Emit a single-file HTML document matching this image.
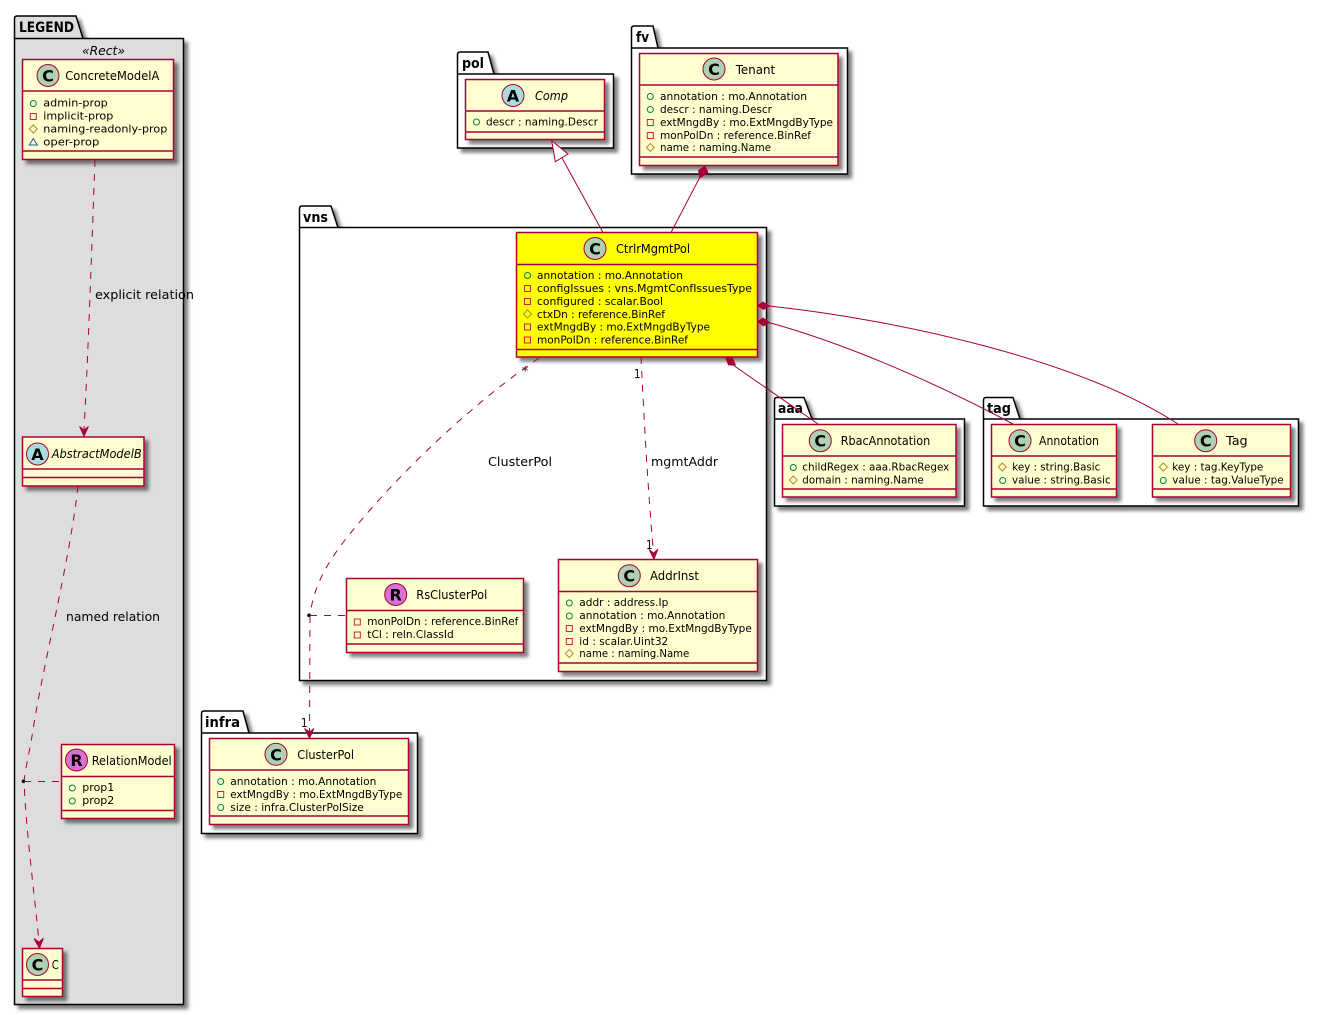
<!DOCTYPE html>
<html><head><meta charset="utf-8"><style>
html,body{margin:0;padding:0;background:#fff}
svg{display:block}
text{font-family:"DejaVu Sans","Liberation Sans",sans-serif;fill:#000}
.a{font-size:11px}
.n{font-size:12.5px}
.i{font-style:italic}
.l{font-size:12px}
.k{font-size:14.5px;font-weight:bold}
.ltr{font-size:16px;font-weight:bold;text-anchor:middle}
.pk{fill:#fff;stroke:#000;stroke-width:1.5}
.cl{fill:#FEFECE;stroke:#A80036;stroke-width:1.5}
.y{fill:#FFFF00}
.dv{stroke:#A80036;stroke-width:1.5;fill:none}
.circ{stroke:#A80036;stroke-width:1;fill:#ADD1B2}
.conn{stroke:#A80036;stroke-width:1;fill:none}
.d{stroke-dasharray:7,7}
.ah{fill:#A80036;stroke:#A80036;stroke-width:.8}
</style></head><body>
<svg xmlns="http://www.w3.org/2000/svg" width="1319" height="1015" viewBox="0 0 1319 1015">
<defs>
<filter id="s" x="-20%" y="-20%" width="145%" height="145%"><feGaussianBlur in="SourceAlpha" stdDeviation="1.8"/><feColorMatrix type="matrix" values="0 0 0 0 0 0 0 0 0 0 0 0 0 0 0 0 0 0 .5 0"/><feOffset dx="4" dy="4" result="b"/><feMerge><feMergeNode in="b"/><feMergeNode in="SourceGraphic"/></feMerge></filter>
<circle id="p" r="3" fill="none" stroke="#038048"/>
<rect id="m" x="-3" y="-3" width="6" height="6" fill="none" stroke="#C82930"/>
<path id="h" d="M0,-4L4,0L0,4L-4,0Z" fill="none" stroke="#B38D22"/>
<path id="t" d="M0,-3.5L4,3L-4,3Z" fill="none" stroke="#1963A0"/>
</defs>

<!-- packages -->
<g filter="url(#s)"><path class="pk" style="fill:#DDDDDD" d="M14.5,38.5V18.5Q14.5,16 17,16H76L83,38.5"/><rect class="pk" style="fill:#DDDDDD" x="14.5" y="38.5" width="169" height="966"/></g>
<text class="k" x="19" y="32" textLength="55" lengthAdjust="spacingAndGlyphs">LEGEND</text>
<text class="l i" x="82" y="55" textLength="43" lengthAdjust="spacingAndGlyphs">«Rect»</text>

<g filter="url(#s)"><path class="pk" d="M457.5,74V54.5Q457.5,52 460,52H488L494,74"/><rect class="pk" x="457.5" y="74" width="156" height="74"/></g>
<text class="k" x="462" y="68" textLength="22" lengthAdjust="spacingAndGlyphs">pol</text>

<g filter="url(#s)"><path class="pk" d="M631.5,48V28.5Q631.5,26 634,26H653L658,48"/><rect class="pk" x="631.5" y="48" width="216" height="126"/></g>
<text class="k" x="636" y="42" textLength="13" lengthAdjust="spacingAndGlyphs">fv</text>

<g filter="url(#s)"><path class="pk" d="M299.5,227.5V208.5Q299.5,206 302,206H331L338,227.5"/><rect class="pk" x="299.5" y="227.5" width="467" height="453"/></g>
<text class="k" x="303" y="222" textLength="25" lengthAdjust="spacingAndGlyphs">vns</text>

<g filter="url(#s)"><path class="pk" d="M774.5,419V400Q774.5,397.5 777,397.5H804L812,419"/><rect class="pk" x="774.5" y="419" width="190" height="87"/></g>
<text class="k" x="778" y="413" textLength="25" lengthAdjust="spacingAndGlyphs">aaa</text>

<g filter="url(#s)"><path class="pk" d="M983.5,419V400Q983.5,397.5 986,397.5H1013L1020,419"/><rect class="pk" x="983.5" y="419" width="315" height="87"/></g>
<text class="k" x="987" y="413" textLength="24" lengthAdjust="spacingAndGlyphs">tag</text>

<g filter="url(#s)"><path class="pk" d="M201.5,733V713.5Q201.5,711 204,711H243L249,733"/><rect class="pk" x="201.5" y="733" width="216" height="100.5"/></g>
<text class="k" x="205" y="727" textLength="35" lengthAdjust="spacingAndGlyphs">infra</text>

<!-- ConcreteModelA -->
<g filter="url(#s)"><rect class="cl" x="22.5" y="59.5" width="151" height="100"/></g>
<path class="dv" d="M22.5,91H173.5M22.5,151H173.5"/>
<circle class="circ" cx="48" cy="75.5" r="11"/><text class="ltr" x="48" y="81.5">C</text>
<text class="n" x="65.3" y="80" textLength="94" lengthAdjust="spacingAndGlyphs">ConcreteModelA</text>
<use href="#p" x="33.3" y="103.5"/><text class="a" x="43.3" y="106.5" textLength="64.5" lengthAdjust="spacingAndGlyphs">admin-prop</text>
<use href="#m" x="33.3" y="116.5"/><text class="a" x="43.3" y="119.5" textLength="70" lengthAdjust="spacingAndGlyphs">implicit-prop</text>
<use href="#h" x="33.3" y="129"/><text class="a" x="43.3" y="132.5" textLength="124" lengthAdjust="spacingAndGlyphs">naming-readonly-prop</text>
<use href="#t" x="33.3" y="142"/><text class="a" x="43.3" y="145.5" textLength="56" lengthAdjust="spacingAndGlyphs">oper-prop</text>

<!-- AbstractModelB -->
<g filter="url(#s)"><rect class="cl" x="22.5" y="437" width="121.5" height="49"/></g>
<path class="dv" d="M22.5,469H144M22.5,477.5H144"/>
<circle class="circ" style="fill:#A9DCDF" cx="37.5" cy="454" r="11"/><text class="ltr" x="37.5" y="460">A</text>
<text class="n i" x="51.7" y="458" textLength="90" lengthAdjust="spacingAndGlyphs">AbstractModelB</text>

<!-- RelationModel -->
<g filter="url(#s)"><rect class="cl" x="61.5" y="744.5" width="113" height="74"/></g>
<path class="dv" d="M61.5,776.5H174.5M61.5,810.5H174.5"/>
<circle class="circ" style="fill:#DA70D6" cx="76.5" cy="760" r="11"/><text class="ltr" x="76.5" y="766">R</text>
<text class="n" x="91.7" y="765" textLength="80" lengthAdjust="spacingAndGlyphs">RelationModel</text>
<use href="#p" x="72.3" y="788"/><text class="a" x="82.3" y="791" textLength="32" lengthAdjust="spacingAndGlyphs">prop1</text>
<use href="#p" x="72.3" y="801"/><text class="a" x="82.3" y="804" textLength="32" lengthAdjust="spacingAndGlyphs">prop2</text>

<!-- C -->
<g filter="url(#s)"><rect class="cl" x="22.5" y="948.5" width="40" height="48"/></g>
<path class="dv" d="M22.5,980H62.5M22.5,988.5H62.5"/>
<circle class="circ" cx="37.5" cy="964.5" r="11"/><text class="ltr" x="37.5" y="970.5">C</text>
<text class="n" x="51.7" y="969" textLength="7" lengthAdjust="spacingAndGlyphs">C</text>

<!-- Comp -->
<g filter="url(#s)"><rect class="cl" x="465.5" y="79.5" width="139" height="60"/></g>
<path class="dv" d="M465.5,111H604.5M465.5,132H604.5"/>
<circle class="circ" style="fill:#A9DCDF" cx="513" cy="95.5" r="11"/><text class="ltr" x="513" y="101.5">A</text>
<text class="n i" x="535" y="100" textLength="33" lengthAdjust="spacingAndGlyphs">Comp</text>
<use href="#p" x="476.5" y="122"/><text class="a" x="486" y="125.5" textLength="112" lengthAdjust="spacingAndGlyphs">descr : naming.Descr</text>

<!-- Tenant -->
<g filter="url(#s)"><rect class="cl" x="639.5" y="53.5" width="198.5" height="112"/></g>
<path class="dv" d="M639.5,85H838M639.5,157H838"/>
<circle class="circ" cx="714" cy="69" r="11"/><text class="ltr" x="714" y="75">C</text>
<text class="n" x="735.7" y="74" textLength="39.5" lengthAdjust="spacingAndGlyphs">Tenant</text>
<use href="#p" x="650.3" y="96.5"/><text class="a" x="660" y="100" textLength="147" lengthAdjust="spacingAndGlyphs">annotation : mo.Annotation</text>
<use href="#p" x="650.3" y="109.5"/><text class="a" x="660" y="113" textLength="112" lengthAdjust="spacingAndGlyphs">descr : naming.Descr</text>
<use href="#m" x="650.3" y="122.5"/><text class="a" x="660" y="126" textLength="173" lengthAdjust="spacingAndGlyphs">extMngdBy : mo.ExtMngdByType</text>
<use href="#m" x="650.3" y="135.5"/><text class="a" x="660" y="139" textLength="151" lengthAdjust="spacingAndGlyphs">monPolDn : reference.BinRef</text>
<use href="#h" x="650.3" y="147.5"/><text class="a" x="660" y="151" textLength="111" lengthAdjust="spacingAndGlyphs">name : naming.Name</text>

<!-- CtrlrMgmtPol -->
<g filter="url(#s)"><rect class="cl y" x="516.5" y="232.5" width="241" height="124.5"/></g>
<path class="dv" d="M516.5,264.5H757.5M516.5,349.5H757.5"/>
<circle class="circ" cx="595" cy="248.5" r="11"/><text class="ltr" x="595" y="254.5">C</text>
<text class="n" x="616" y="253" textLength="74" lengthAdjust="spacingAndGlyphs">CtrlrMgmtPol</text>
<use href="#p" x="527.5" y="275.5"/><text class="a" x="537" y="279" textLength="146" lengthAdjust="spacingAndGlyphs">annotation : mo.Annotation</text>
<use href="#m" x="527.5" y="288.5"/><text class="a" x="537" y="292" textLength="215" lengthAdjust="spacingAndGlyphs">configIssues : vns.MgmtConfIssuesType</text>
<use href="#m" x="527.5" y="301.5"/><text class="a" x="537" y="305" textLength="126" lengthAdjust="spacingAndGlyphs">configured : scalar.Bool</text>
<use href="#h" x="527.5" y="314"/><text class="a" x="537" y="318" textLength="128" lengthAdjust="spacingAndGlyphs">ctxDn : reference.BinRef</text>
<use href="#m" x="527.5" y="327"/><text class="a" x="537" y="330.5" textLength="173" lengthAdjust="spacingAndGlyphs">extMngdBy : mo.ExtMngdByType</text>
<use href="#m" x="527.5" y="340"/><text class="a" x="537" y="343.5" textLength="151" lengthAdjust="spacingAndGlyphs">monPolDn : reference.BinRef</text>

<!-- RsClusterPol -->
<g filter="url(#s)"><rect class="cl" x="346.5" y="578.5" width="177" height="74"/></g>
<path class="dv" d="M346.5,610.5H523.5M346.5,644H523.5"/>
<circle class="circ" style="fill:#DA70D6" cx="395.7" cy="594.5" r="11"/><text class="ltr" x="395.7" y="600.5">R</text>
<text class="n" x="416.3" y="599" textLength="71" lengthAdjust="spacingAndGlyphs">RsClusterPol</text>
<use href="#m" x="357.3" y="622"/><text class="a" x="367.3" y="625" textLength="151" lengthAdjust="spacingAndGlyphs">monPolDn : reference.BinRef</text>
<use href="#m" x="357.3" y="635"/><text class="a" x="367.3" y="638" textLength="86.5" lengthAdjust="spacingAndGlyphs">tCl : reln.ClassId</text>

<!-- AddrInst -->
<g filter="url(#s)"><rect class="cl" x="558.5" y="559.5" width="199" height="112"/></g>
<path class="dv" d="M558.5,591.5H757.5M558.5,663H757.5"/>
<circle class="circ" cx="629.3" cy="575.7" r="11"/><text class="ltr" x="629.3" y="581.7">C</text>
<text class="n" x="650" y="580" textLength="49" lengthAdjust="spacingAndGlyphs">AddrInst</text>
<use href="#p" x="569.3" y="603"/><text class="a" x="579.3" y="606" textLength="89" lengthAdjust="spacingAndGlyphs">addr : address.Ip</text>
<use href="#p" x="569.3" y="616"/><text class="a" x="579.3" y="619" textLength="146" lengthAdjust="spacingAndGlyphs">annotation : mo.Annotation</text>
<use href="#m" x="569.3" y="628.5"/><text class="a" x="579.3" y="632" textLength="172.5" lengthAdjust="spacingAndGlyphs">extMngdBy : mo.ExtMngdByType</text>
<use href="#m" x="569.3" y="641.5"/><text class="a" x="579.3" y="645" textLength="89" lengthAdjust="spacingAndGlyphs">id : scalar.Uint32</text>
<use href="#h" x="569.3" y="653.5"/><text class="a" x="579.3" y="657" textLength="110" lengthAdjust="spacingAndGlyphs">name : naming.Name</text>

<!-- RbacAnnotation -->
<g filter="url(#s)"><rect class="cl" x="782.5" y="424.5" width="173.5" height="72.5"/></g>
<path class="dv" d="M782.5,456H956M782.5,489H956"/>
<circle class="circ" cx="820.3" cy="440.7" r="11"/><text class="ltr" x="820.3" y="446.7">C</text>
<text class="n" x="840.7" y="445" textLength="89.5" lengthAdjust="spacingAndGlyphs">RbacAnnotation</text>
<use href="#p" x="793.3" y="467.5"/><text class="a" x="802.3" y="470.5" textLength="147" lengthAdjust="spacingAndGlyphs">childRegex : aaa.RbacRegex</text>
<use href="#h" x="793.3" y="480"/><text class="a" x="802.3" y="483.5" textLength="121.5" lengthAdjust="spacingAndGlyphs">domain : naming.Name</text>

<!-- Annotation -->
<g filter="url(#s)"><rect class="cl" x="991.5" y="424.5" width="125" height="72.5"/></g>
<path class="dv" d="M991.5,456H1116.5M991.5,489H1116.5"/>
<circle class="circ" cx="1020" cy="440.7" r="11"/><text class="ltr" x="1020" y="446.7">C</text>
<text class="n" x="1039" y="445" textLength="60" lengthAdjust="spacingAndGlyphs">Annotation</text>
<use href="#h" x="1002.3" y="467"/><text class="a" x="1012.3" y="470.5" textLength="88" lengthAdjust="spacingAndGlyphs">key : string.Basic</text>
<use href="#p" x="1002.7" y="480.5"/><text class="a" x="1012" y="483.5" textLength="98.7" lengthAdjust="spacingAndGlyphs">value : string.Basic</text>

<!-- Tag -->
<g filter="url(#s)"><rect class="cl" x="1152.5" y="424.5" width="138" height="72.5"/></g>
<path class="dv" d="M1152.5,456H1290.5M1152.5,489H1290.5"/>
<circle class="circ" cx="1205.7" cy="440.7" r="11"/><text class="ltr" x="1205.7" y="446.7">C</text>
<text class="n" x="1226" y="445" textLength="21.7" lengthAdjust="spacingAndGlyphs">Tag</text>
<use href="#h" x="1163.3" y="467"/><text class="a" x="1172.3" y="470.5" textLength="91" lengthAdjust="spacingAndGlyphs">key : tag.KeyType</text>
<use href="#p" x="1163.3" y="480.5"/><text class="a" x="1172.3" y="483.5" textLength="111.4" lengthAdjust="spacingAndGlyphs">value : tag.ValueType</text>

<!-- ClusterPol -->
<g filter="url(#s)"><rect class="cl" x="209.5" y="738.5" width="199" height="86"/></g>
<path class="dv" d="M209.5,770H408.5M209.5,816H408.5"/>
<circle class="circ" cx="276" cy="754.3" r="11"/><text class="ltr" x="276" y="760.3">C</text>
<text class="n" x="297.3" y="759" textLength="56.7" lengthAdjust="spacingAndGlyphs">ClusterPol</text>
<use href="#p" x="220.7" y="781.5"/><text class="a" x="230.3" y="785" textLength="146" lengthAdjust="spacingAndGlyphs">annotation : mo.Annotation</text>
<use href="#m" x="220.7" y="794.5"/><text class="a" x="230.3" y="798" textLength="172" lengthAdjust="spacingAndGlyphs">extMngdBy : mo.ExtMngdByType</text>
<use href="#p" x="220.7" y="807.5"/><text class="a" x="230.3" y="811" textLength="133.5" lengthAdjust="spacingAndGlyphs">size : infra.ClusterPolSize</text>

<!-- connectors -->
<path class="conn d" d="M95,160C92,240 88,360 84,430"/>
<path class="ah" d="M84,436.5L79.5,426.5L84,430L88.5,426.5Z"/>
<text class="l" x="95" y="299" textLength="99" lengthAdjust="spacingAndGlyphs">explicit relation</text>

<path class="conn d" d="M78,486C70,560 42,670 33,730C30,750 26,765 24,781C26,830 34,890 39,942"/>
<path class="ah" d="M39.5,948.5L34,938.5L39,942L43.5,938Z"/>
<circle cx="23.5" cy="781.3" r="1.8" fill="#000"/>
<path class="conn d" d="M24,781.5H61"/>
<text class="l" x="66" y="621" textLength="94" lengthAdjust="spacingAndGlyphs">named relation</text>

<path class="conn" d="M562,158L603,232.5"/>
<path d="M551.7,140.7L568,154L555.3,161.7Z" fill="#fff" stroke="#A80036"/>

<path class="conn" d="M700,177L671,232.5"/>
<path class="ah" d="M705,166L708,172.5L700,178L698.5,170.5Z"/>

<path class="conn" d="M733,365L818,424"/>
<path class="ah" d="M725.5,357.5L732.5,358L735.5,365L728.5,365Z"/>

<path class="conn" d="M769,322.5C850,345 940,385 1013,424"/>
<path class="ah" d="M757.5,321.5L763,318L769.5,322.5L763.5,326Z"/>

<path class="conn" d="M769,306C900,320 1080,360 1178,424"/>
<path class="ah" d="M757.5,305.5L763,302L769.5,306L763.5,309.5Z"/>

<path class="conn d" d="M641,357C644,420 648,490 653.5,553"/>
<path class="ah" d="M654,559.5L649,549.5L653.5,553L658,549Z"/>
<text class="l" x="651" y="466" textLength="67" lengthAdjust="spacingAndGlyphs">mgmtAddr</text>
<text class="l" x="634" y="378" textLength="6.5" lengthAdjust="spacingAndGlyphs">1</text>
<text class="l" x="646" y="549" textLength="6.5" lengthAdjust="spacingAndGlyphs">1</text>

<path class="conn d" d="M539,358C480,398 400,470 345,540C328,562 314,585 310,615"/>
<circle cx="309" cy="615.3" r="1.8" fill="#000"/>
<path class="conn d" d="M310,615.5H346"/>
<path class="conn d" d="M310,616L309.5,732"/>
<path class="ah" d="M309.5,738.5L304.5,728.5L309.5,732L314,728.5Z"/>
<text class="l" x="488" y="466" textLength="64" lengthAdjust="spacingAndGlyphs">ClusterPol</text>
<text class="l" x="301" y="727" textLength="6.5" lengthAdjust="spacingAndGlyphs">1</text>
<text class="l" x="522" y="375" textLength="6.5" lengthAdjust="spacingAndGlyphs" style="fill:#333">*</text>
</svg>
</body></html>
